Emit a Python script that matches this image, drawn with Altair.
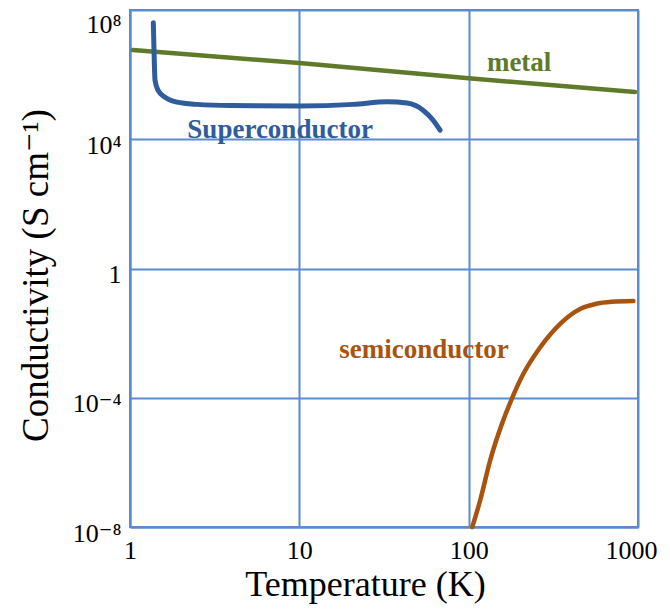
import altair as alt
import pandas as pd

# ---- data ----
metal_T = [1.04, 10, 100, 960]
metal_sigma = [5.75e6, 2.29e6, 7.76e5, 2.88e5]

super_T = [1.373, 1.386, 1.405, 1.463, 1.61, 1.895, 2.49, 3.90, 10.1, 20.8, 33.0, 43.3, 53.8, 61.7, 67.8]
super_sigma = [4.04e7, 5.75e6, 6.76e5, 3.31e5, 2.0e5, 1.41e5, 1.20e5, 1.10e5, 1.07e5, 1.20e5, 1.45e5, 1.32e5, 7.94e4, 3.89e4, 1.91e4]

semi_T = [105, 116.8, 133.7, 156.8, 179.5, 210, 264, 347, 455, 560, 700, 939]
semi_sigma = [1.0e-8, 6.5e-8, 1.12e-6, 1.5e-5, 9.1e-5, 5.4e-4, 3.6e-3, 1.95e-2, 5.6e-2, 8.0e-2, 9.3e-2, 9.8e-2]

label_text = ["metal", "Superconductor", "semiconductor"]
label_T = [198.6, 7.7, 54.5]
label_sigma = [1.25e6, 1.07e4, 1.74e-3]
label_color = ["#5f7a2b", "#2f5c9c", "#a8540f"]

x_ticks = [1, 10, 100, 1000]
x_tick_labels = ["1", "10", "100", "1000"]
y_ticks = [1e-8, 1e-4, 1, 1e4, 1e8]
y_tick_labels = ["10\u207b\u2078", "10\u207b\u2074", "1", "10\u2074", "10\u2078"]

GRID = "#5b8bd0"
FONT = "Liberation Serif, Times New Roman, DejaVu Serif, serif"


def label_expr(ticks, labels):
    import math
    expr = "''"
    for t, l in zip(ticks, labels):
        e = round(math.log10(t))
        expr = f"(round(log(datum.value)/LN10) == {e}) ? '{l}' : " + expr
    return expr


x_scale = alt.Scale(type="log", domain=[1, 1000], nice=False)
y_scale = alt.Scale(type="log", domain=[1e-8, 1e8], nice=False)

top_test = "datum.value > 1e7"
right_test = "datum.value > 500"

x_axis = alt.Axis(
    values=x_ticks, labelExpr=label_expr(x_ticks, x_tick_labels),
    title="Temperature (K)", grid=True, gridColor=GRID, gridWidth=2, gridOpacity=1,
    ticks=False, domainColor=GRID, domainWidth=2,
    labelFont=FONT, labelFontSize=26, labelColor="black", labelPadding=10,
    labelOffset={"condition": {"test": right_test, "value": -7}, "value": 0},
    titleFont=FONT, titleFontSize=36, titleFontWeight="normal", titleColor="black",
    titleX=235, titleY=68, titleBaseline="alphabetic", titleAlign="center",
    labelFlush=False, labelOverlap=False,
)
y_axis = alt.Axis(
    values=y_ticks, labelExpr=label_expr(y_ticks, y_tick_labels),
    title="Conductivity (S cm\u207b\u00b9)", grid=True, gridColor=GRID, gridWidth=2, gridOpacity=1,
    ticks=False, domainColor=GRID, domainWidth=2,
    labelFont=FONT, labelFontSize=26, labelColor="black", labelPadding=9,
    labelOffset={"condition": {"test": top_test, "value": 1}, "value": 6},
    labelBaseline={"condition": {"test": top_test, "value": "top"}, "value": "middle"},
    titleFont=FONT, titleFontSize=37, titleFontWeight="normal", titleColor="black",
    titleX=-83, titleY=265, titleAngle=270, titleBaseline="alphabetic", titleAlign="center",
    labelFlush=False, labelOverlap=False,
)

metal_df = pd.DataFrame({"T": metal_T, "sigma": metal_sigma})
super_df = pd.DataFrame({"T": super_T, "sigma": super_sigma})
semi_df = pd.DataFrame({"T": semi_T, "sigma": semi_sigma})
lab_df = pd.DataFrame({"text": label_text, "T": label_T, "sigma": label_sigma, "color": label_color})

base_x = alt.X("T:Q", scale=x_scale, axis=x_axis)
base_y = alt.Y("sigma:Q", scale=y_scale, axis=y_axis)

metal = alt.Chart(metal_df).mark_line(color="#5f7a2b", strokeWidth=4.5, strokeCap="round").encode(
    x=base_x, y=base_y)
superc = alt.Chart(super_df).mark_line(color="#2f5c9c", strokeWidth=5, strokeCap="round",
                                       interpolate="monotone").encode(
    x=alt.X("T:Q", scale=x_scale), y=alt.Y("sigma:Q", scale=y_scale))
semi = alt.Chart(semi_df).mark_line(color="#a8540f", strokeWidth=4.5, strokeCap="round",
                                    interpolate="monotone").encode(
    x=alt.X("T:Q", scale=x_scale), y=alt.Y("sigma:Q", scale=y_scale))
labels = alt.Chart(lab_df).mark_text(font=FONT, fontWeight="bold", fontSize=27,
                                     align="center", baseline="alphabetic").encode(
    x=alt.X("T:Q", scale=x_scale), y=alt.Y("sigma:Q", scale=y_scale),
    text="text:N", color=alt.Color("color:N", scale=None))

chart = alt.layer(metal, superc, semi, labels).properties(
    width=508, height=517,
    autosize=alt.AutoSizeParams(type="none"),
    padding={"left": 122, "top": 2, "right": 24, "bottom": 78},
).configure_view(stroke=GRID, strokeWidth=2)

chart.save("out.html", embed_options={"renderer": "svg", "actions": False})
